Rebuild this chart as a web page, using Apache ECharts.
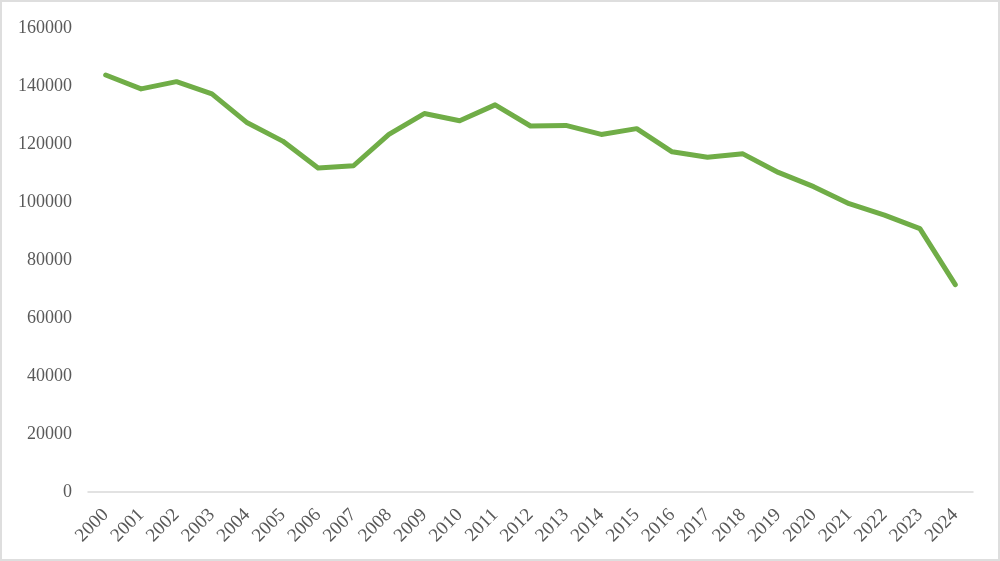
<!DOCTYPE html>
<html>
<head>
<meta charset="utf-8">
<script src="https://cdn.jsdelivr.net/npm/echarts@6/dist/echarts.min.js"></script>
<style>
html,body{margin:0;padding:0;background:#fff;}
#c{width:996px;height:557px;border:2px solid #dedede;}
</style>
</head>
<body>
<div id="c"></div>
<script>
const years = ['2000','2001','2002','2003','2004','2005','2006','2007','2008','2009','2010','2011','2012','2013','2014','2015','2016','2017','2018','2019','2020','2021','2022','2023','2024'];
const values = [143800,139000,141500,137300,127300,121000,111700,112500,123300,130500,128000,133500,126200,126400,123300,125300,117300,115400,116600,110200,105300,99400,95500,90800,71500];
const yTicks = {min:0, max:160000, interval:20000};

const chart = echarts.init(document.getElementById('c'));
chart.setOption({
  animation:false,
  grid:{left:86,right:25,top:26,bottom:67},
  xAxis:{
    type:'category',
    data:years,
    boundaryGap:true,
    axisLine:{lineStyle:{color:'#d9d9d9',width:1.5}},
    axisTick:{show:false},
    axisLabel:{rotate:45,color:'#595959',fontFamily:'Liberation Serif',fontSize:19,margin:20,interval:0}
  },
  yAxis:{
    type:'value',
    min:yTicks.min,max:yTicks.max,interval:yTicks.interval,
    splitLine:{show:false},
    axisLine:{show:false},
    axisTick:{show:false},
    axisLabel:{color:'#595959',fontFamily:'Liberation Serif',fontSize:18,margin:16,formatter:function(v){return String(v);}}
  },
  series:[{
    type:'line',
    data:values,
    symbol:'none',
    lineStyle:{color:'#70ad47',width:5,cap:'round',join:'round'},
    itemStyle:{color:'#70ad47'}
  }]
});
</script>
</body>
</html>
